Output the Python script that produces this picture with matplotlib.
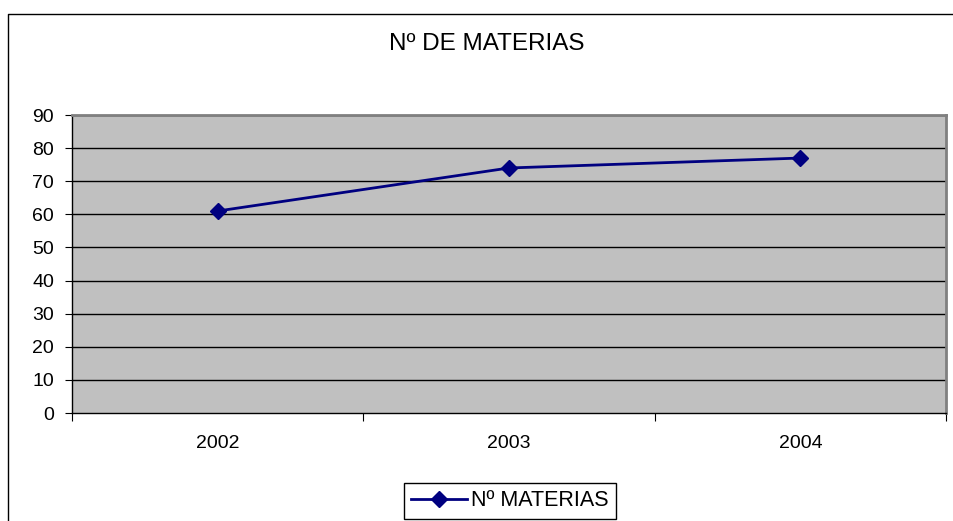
import matplotlib
matplotlib.use("Agg")
import matplotlib.pyplot as plt
from matplotlib.lines import Line2D

categories = ["2002", "2003", "2004"]
values = [61, 74, 77]
yticks = [0, 10, 20, 30, 40, 50, 60, 70, 80, 90]
title = "Nº DE MATERIAS"
series_name = "Nº MATERIAS"

plt.rcParams['font.family'] = ['Liberation Sans', 'DejaVu Sans']

fig = plt.figure(figsize=(9.54, 5.21), dpi=100)
ax = fig.add_axes([72/954, (521-413)/521, (946-72)/954, (413-115)/521])
ax.set_facecolor('#C0C0C0')

x = list(range(len(categories)))
ax.plot(x, values, color='#000080', linewidth=2, marker='D', markersize=8,
        markerfacecolor='#000080', markeredgecolor='#000080', label=series_name, zorder=3)

ax.set_xlim(-0.5, len(categories) - 0.5)
ax.set_ylim(0, 90)
ax.set_yticks(yticks)
ax.set_yticklabels([str(v) for v in yticks], fontsize=14)
for v in yticks[1:]:
    ax.axhline(v, color='black', linewidth=1, zorder=1)

ax.set_xticks([i - 0.5 for i in range(len(categories) + 1)])
ax.set_xticklabels([])
ax.set_xticks(x, minor=True)
ax.set_xticklabels(categories, minor=True, fontsize=14)
ax.tick_params(axis='x', which='minor', length=0, pad=16)
ax.tick_params(axis='x', which='major', length=6, direction='out', color='black')
ax.tick_params(axis='y', length=5, direction='out', pad=8)

for s in ['top', 'right']:
    ax.spines[s].set_color('#808080')
    ax.spines[s].set_linewidth(2)
for s in ['left', 'bottom']:
    ax.spines[s].set_color('black')
    ax.spines[s].set_linewidth(1)

fig.text(487/954, 1 - 44/521, title, ha='center', va='center', fontsize=17.5)

leg = ax.legend(loc='center', bbox_to_anchor=(510/954, 1 - 501/521), bbox_transform=fig.transFigure,
                fontsize=15.5, frameon=True, fancybox=False, edgecolor='black', framealpha=1,
                handlelength=2.6, borderpad=0.35, handletextpad=0.2)
leg.get_frame().set_linewidth(1)

top = 1 - 13.5/521
left = 8.5/954
fig.add_artist(Line2D([left, left, 1.05], [-0.05, top, top], transform=fig.transFigure,
                      color='black', linewidth=1, clip_on=False))

fig.savefig('out.png', dpi=100)
